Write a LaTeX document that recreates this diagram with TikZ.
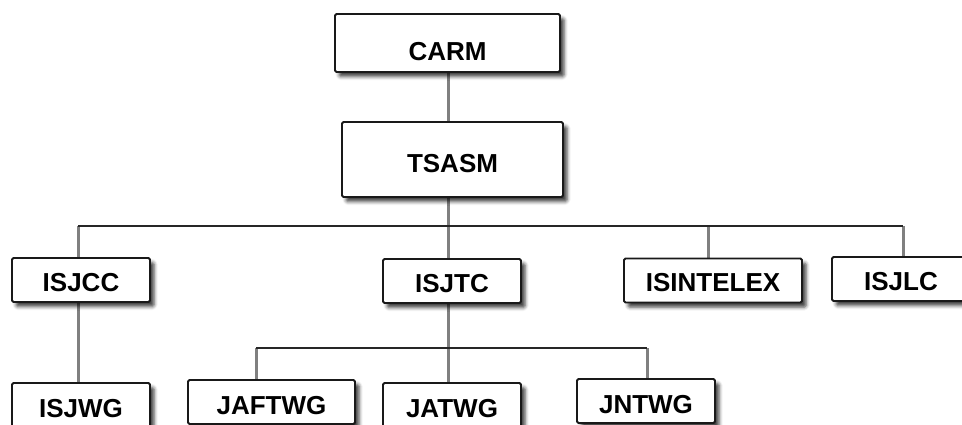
\documentclass[tikz,border=0pt]{standalone}
\usepackage{fontspec}
\setmainfont{Liberation Sans}
\usetikzlibrary{shadows.blur}
\tikzset{
  orgbox/.style={draw=black!90, line width=1.8pt, fill=white, rounded corners=1.5pt,
    font=\fontsize{26}{28}\selectfont\bfseries, inner sep=0pt,
    minimum height=44pt, text height=22pt, text depth=0pt,
    blur shadow={shadow xshift=4pt, shadow yshift=-4.5pt, shadow blur radius=3.5pt, shadow opacity=75}},
  vline/.style={draw=black!50, line width=3pt},
  hline/.style={draw=black!85, line width=1.8pt}
}
\begin{document}
\begin{tikzpicture}[x=1pt,y=-1pt]
\useasboundingbox (0,0) rectangle (962,424);
\clip (0,0) rectangle (962,424);
% coordinates for buses
\coordinate (b1) at (78,226);
\coordinate (b2) at (448,226);
\coordinate (b3) at (708,226);
\coordinate (b4) at (903,226);
\coordinate (s1) at (256,348);
\coordinate (s2) at (448,348);
\coordinate (s3) at (647,348);
% connectors (drawn first)
\draw[vline] (448,72) -- (448,122);
\draw[vline] (448,197) -- (b2);
\draw[vline] (b1) -- (78,258);
\draw[vline] (b2) -- (448,259);
\draw[vline] (b3) -- (708,259);
\draw[vline] (b4) -- (903,257);
\draw[vline] (78,302) -- (78,383);
\draw[vline] (448,303) -- (s2);
\draw[vline] (s1) -- (256,380);
\draw[vline] (s2) -- (448,383);
\draw[vline] (s3) -- (647,379);
\draw[hline] (b1) -- (b4);
\draw[hline] (s1) -- (s3);
% nodes
\node[orgbox, minimum width=225pt, minimum height=58pt, text height=34pt] (carm) at (447.5,43) {CARM};
\node[orgbox, minimum width=221pt, minimum height=75pt, text height=25pt] (tsasm) at (452.5,159.5) {TSASM};
\node[orgbox, minimum width=138pt] (isjcc) at (81,280) {ISJCC};
\node[orgbox, minimum width=138pt] (isjtc) at (452,281) {ISJTC};
\node[orgbox, minimum width=178pt] (isintelex) at (713,280.5) {ISINTELEX};
\node[orgbox, minimum width=138pt] (isjlc) at (901,279) {ISJLC};
\node[orgbox, minimum width=138pt, text height=25pt] (isjwg) at (81,405) {ISJWG};
\node[orgbox, minimum width=167pt, text height=25pt] (jaftwg) at (271.5,402) {JAFTWG};
\node[orgbox, minimum width=138pt, text height=25pt] (jatwg) at (452,405) {JATWG};
\node[orgbox, minimum width=138pt, text height=25pt] (jntwg) at (646,401) {JNTWG};
\end{tikzpicture}
\end{document}
